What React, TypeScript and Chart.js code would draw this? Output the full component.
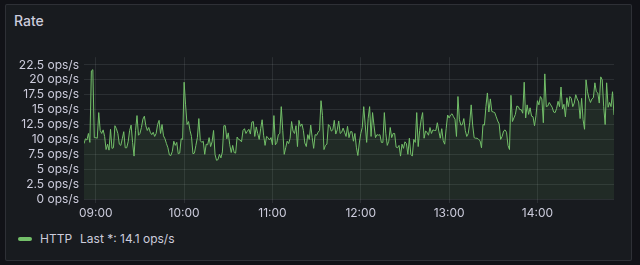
import { useEffect, useRef } from "react";
import { Chart, registerables } from "chart.js";

Chart.register(...registerables);

const panelTitle = "Rate";
const seriesName = "HTTP";
const unit = "ops/s";
// first sample at 08:52, one sample per minute
const startMinute = 8 * 60 + 52;
const stepMinutes = 1;

const httpRate = [
  9.3, 10.1, 9.9, 11, 9.5, 21.5, 21.7, 10.3, 10.3, 10.2,
  14.5, 11.5, 11, 11.6, 10.5, 8.3, 9.2, 8.2, 11.7, 8.5,
  8.6, 12.3, 11.8, 11, 9.2, 9, 10.1, 11.3, 8.6, 8.6,
  9.6, 11.5, 12.4, 9.5, 7.2, 11.5, 14, 10.7, 11, 12,
  13.4, 13.9, 12.3, 11.5, 12, 11.2, 10.8, 11.2, 10.5, 11,
  12.5, 13.2, 11, 12.5, 10.6, 10.1, 9.3, 8.6, 7.4, 7.3,
  8, 9.7, 9, 9.5, 7.6, 7.7, 10.1, 10, 19.6, 15.8,
  12.5, 13,
  11.5, 10.5, 7.6, 7.7, 9, 10.3, 13.5, 9.8, 9.5, 9.7,
  7.5, 9.2, 9.1, 10.3, 8.8, 9.6, 11.5, 7.5, 6.5, 6.6,
  7.5, 6.9, 7.9, 12.3, 12.3, 10.1, 11.1, 9.1, 7.8, 9,
  7.8, 7.7, 10.4, 10, 9.9, 9.6, 11.5, 11.8, 11, 11.4,
  11.7, 10.9, 12.9, 13, 10.5, 12.1, 11, 10, 11.8, 13.3,
  10.7, 9, 10.5, 10.3, 9.9, 10.3, 9.1, 14, 9.1, 9.5,
  10.8, 11, 15.5, 11.5, 7.5, 8.6, 9.7, 9.3, 10.2, 13,
  11.4, 11,
  12.3, 8.8, 13.2, 12.2, 12.6, 11.5, 9.4, 8.8, 10.8, 10,
  12.4, 10.3, 8.5, 10.8, 10.7, 11.2, 11.5, 16.5, 14, 8.3,
  9, 9.2, 12.5, 12.2, 11.4, 11.6, 13.2, 10.9, 11.6, 13.1,
  11, 11.2, 11.9, 11.2, 10.5, 12.2, 10.3, 11.3, 11.3, 9.7,
  11, 8.7, 7.3, 9.4, 11, 12, 15.5, 12.5, 9.5, 13.5,
  15.5, 10.5, 14.5, 12.3, 10.3, 10.8, 10.7, 10.8, 9.5, 9.5,
  14.5, 11, 9, 9.7, 12, 10.3, 11, 11, 8.7, 8.6,
  9, 7.2,
  9.2, 8.5, 9.6, 9.3, 7.5, 10.2, 7.5, 7.2, 10, 9.5,
  14.5, 8.8, 11.5, 13.3, 14.5, 10.2, 11.4, 11.2, 10.7, 12,
  11, 11.6, 11.5, 11.5, 12.8, 11.4, 10.2, 11.8, 9.8, 9.2,
  11.8, 14.1, 13.6, 14.1, 14.3, 13.8, 13.4, 10.5, 17.2, 13.3,
  12.4, 12.5, 13.5, 11.5, 10.5, 11, 12.8, 15.8, 12.4, 10.3,
  10.2, 10.2, 10, 9.8, 8.6, 12.5, 12.4, 15.5, 17.8, 14.6,
  16.8, 14.7, 14.6, 14.5, 13.8, 13.1, 12.6, 10, 10.5, 11.4,
  11.6, 11.2,
  9, 8.3, 17.4, 13, 13.6, 14.2, 15.6, 15.5, 15, 15,
  14.4, 19.6, 13.6, 15.8, 14.2, 15.3, 13.9, 13.8, 12.3, 14,
  16.5, 15.8, 17.2, 16.8, 12.8, 21, 15.5, 15.6, 16.2, 15.8,
  15.4, 14.6, 14.5, 15.2, 16.4, 15.5, 18.8, 15.1, 15.9, 13.8,
  17, 15.5, 17.2, 16.9, 15.5, 16.1, 17.5, 16.8, 16.3, 13.5,
  16.9, 13.3, 11.7, 20, 18, 16.9, 16.2, 16.8, 17, 19.5,
  18, 17.8, 16.1, 20.5, 20, 15.5, 12.5, 19.5, 15.4, 16.2,
  15.5, 18, 14.1,
];

const xTickMinutes = [540, 600, 660, 720, 780, 840];
const xTickLabels = ["09:00", "10:00", "11:00", "12:00", "13:00", "14:00"];
const yTicks = [0, 2.5, 5, 7.5, 10, 12.5, 15, 17.5, 20, 22.5];
const yMax = 23.8;

const textColor = "#ccccdc";
const gridColor = "rgba(240,250,255,0.09)";
const lineColor = "#73bf69";
const fontFamily = "Inter, 'Noto Sans', sans-serif";

export default function App() {
  const ref = useRef<HTMLCanvasElement>(null);

  useEffect(() => {
    if (!ref.current) return;
    const points = httpRate.map((v, i) => ({ x: startMinute + i * stepMinutes, y: v }));
    const chart = new Chart(ref.current, {
      type: "line",
      data: {
        datasets: [
          {
            label: seriesName,
            data: points,
            borderColor: lineColor,
            borderWidth: 1,
            backgroundColor: "rgba(115,191,105,0.1)",
            fill: "origin",
            pointRadius: 0,
            tension: 0,
          },
        ],
      },
      options: {
        animation: false,
        responsive: false,
        devicePixelRatio: 1,
        layout: { padding: { top: 8, right: 18, left: 0, bottom: 0 } },
        plugins: { legend: { display: false }, tooltip: { enabled: false } },
        scales: {
          x: {
            type: "linear",
            min: startMinute,
            max: startMinute + (httpRate.length - 1) * stepMinutes,
            afterBuildTicks: (s: any) => {
              s.ticks = xTickMinutes.map((v) => ({ value: v }));
            },
            afterFit: (s: any) => {
              s.height = 26;
            },
            ticks: {
              color: textColor,
              font: { family: fontFamily, size: 12 },
              padding: 3,
              maxRotation: 0,
              autoSkip: false,
              callback: (v: any) => {
                const i = xTickMinutes.indexOf(Number(v));
                return i >= 0 ? xTickLabels[i] : "";
              },
            },
            grid: { color: gridColor, tickColor: gridColor, tickLength: 4 },
            border: { display: false },
          },
          y: {
            min: 0,
            max: yMax,
            afterBuildTicks: (s: any) => {
              s.ticks = yTicks.map((v) => ({ value: v }));
            },
            afterFit: (s: any) => {
              s.width = 79;
            },
            ticks: {
              color: textColor,
              font: { family: fontFamily, size: 12 },
              padding: 5,
              autoSkip: false,
              callback: (v: any) => `${v} ${unit}`,
            },
            grid: { color: gridColor, drawTicks: false },
            border: { display: false },
          },
        },
      },
    });
    return () => chart.destroy();
  }, []);

  const last = httpRate[httpRate.length - 1];

  return (
    <div
      style={{
        position: "fixed",
        left: 0,
        top: 0,
        width: 640,
        height: 265,
        background: "#111217",
        fontFamily,
        overflow: "hidden",
      }}
    >
      <div
        style={{
          position: "absolute",
          left: 5,
          top: 4,
          width: 625,
          height: 255,
          background: "#181b1f",
          border: "1px solid rgba(204,204,220,0.12)",
          borderRadius: 2,
        }}
      />
      <div
        style={{
          position: "absolute",
          left: 14,
          top: 12,
          fontSize: 14,
          fontWeight: 500,
          lineHeight: "18px",
          color: textColor,
        }}
      >
        {panelTitle}
      </div>
      <canvas
        ref={ref}
        width={627}
        height={180}
        style={{ position: "absolute", left: 5, top: 45, width: 627, height: 180 }}
      />
      <div
        style={{
          position: "absolute",
          left: 18,
          top: 237,
          width: 14,
          height: 4,
          borderRadius: 2,
          background: lineColor,
        }}
      />
      <div
        style={{
          position: "absolute",
          left: 40,
          top: 231,
          fontSize: 12,
          lineHeight: "16px",
          color: textColor,
          whiteSpace: "pre",
        }}
      >
        <span>{seriesName}</span>
        <span style={{ marginLeft: 8 }}>{`Last *: ${last.toFixed(1)} ${unit}`}</span>
      </div>
    </div>
  );
}
